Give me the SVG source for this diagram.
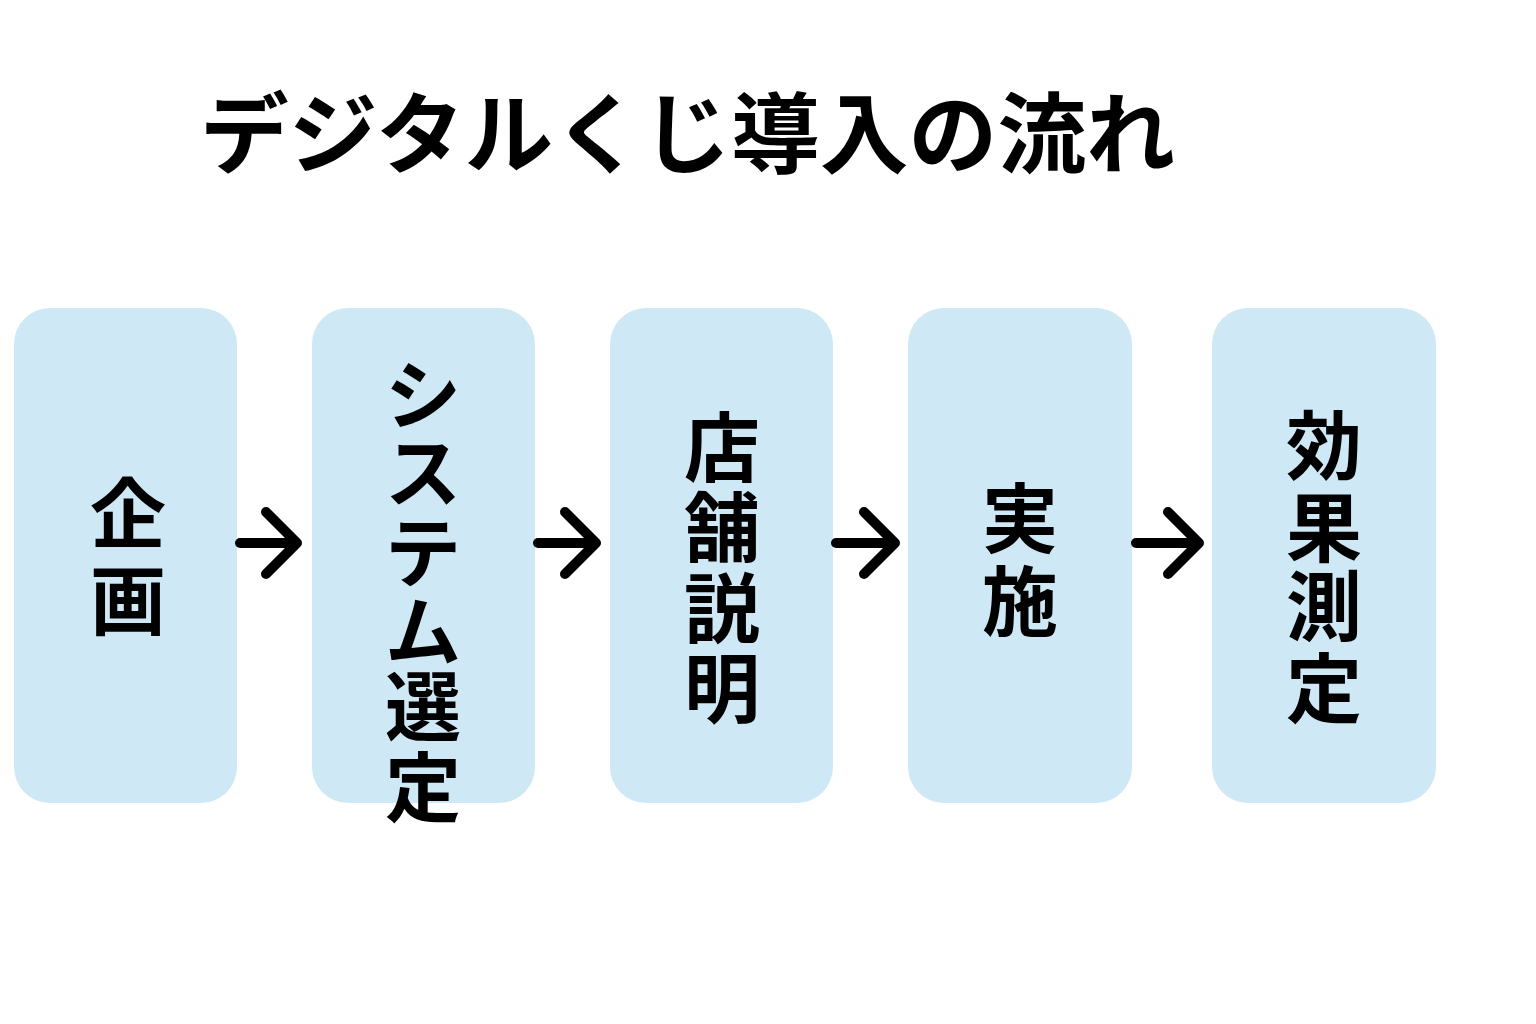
<svg xmlns="http://www.w3.org/2000/svg" width="1536" height="1024" viewBox="0 0 1536 1024">
  <defs>
    <style>
      .box { fill: #cfe8f5; }
      .lbl { font-family: "Noto Sans CJK JP", "Noto Sans", sans-serif; font-weight: 700; font-size: 76px; fill: #000; text-anchor: middle; }
      .title { font-family: "Noto Sans CJK JP", "Noto Sans", sans-serif; font-weight: 700; font-size: 88px; fill: #000; }
      .arrow { fill: none; stroke: #000; stroke-width: 10; stroke-linecap: round; stroke-linejoin: round; }
    </style>
  </defs>
  <rect width="1536" height="1024" fill="#ffffff"/>

  <text class="title" x="200" y="166" textLength="975" lengthAdjust="spacingAndGlyphs">デジタルくじ導入の流れ</text>

  <g id="node-plan">
    <rect class="box" x="14" y="308" width="223" height="495" rx="36"/>
    <text class="lbl"><tspan x="128" y="542">企</tspan><tspan x="128" y="629">画</tspan></text>
  </g>

  <g id="node-system">
    <rect class="box" x="312" y="308" width="223" height="495" rx="36"/>
    <text class="lbl"><tspan x="423" y="423">シ</tspan><tspan x="423" y="501">ス</tspan><tspan x="423" y="581">テ</tspan><tspan x="423" y="660">ム</tspan><tspan x="423" y="735">選</tspan><tspan x="423" y="816">定</tspan></text>
  </g>

  <g id="node-store">
    <rect class="box" x="610" y="308" width="223" height="495" rx="36"/>
    <text class="lbl"><tspan x="722" y="476">店</tspan><tspan x="722" y="556">舗</tspan><tspan x="722" y="637">説</tspan><tspan x="722" y="717">明</tspan></text>
  </g>

  <g id="node-run">
    <rect class="box" x="908" y="308" width="224" height="495" rx="36"/>
    <text class="lbl"><tspan x="1020" y="547">実</tspan><tspan x="1020" y="630">施</tspan></text>
  </g>

  <g id="node-measure">
    <rect class="box" x="1212" y="308" width="224" height="495" rx="36"/>
    <text class="lbl"><tspan x="1324" y="474">効</tspan><tspan x="1324" y="556">果</tspan><tspan x="1324" y="635">測</tspan><tspan x="1324" y="717">定</tspan></text>
  </g>

  <g id="connectors">
    <path class="arrow" d="M240 543 H297 M266 512 L297 543 L266 574"/>
    <path class="arrow" d="M538 543 H596 M565 512 L596 543 L565 574"/>
    <path class="arrow" d="M836 543 H895 M864 512 L895 543 L864 574"/>
    <path class="arrow" d="M1136 543 H1199 M1168 512 L1199 543 L1168 574"/>
  </g>
</svg>
